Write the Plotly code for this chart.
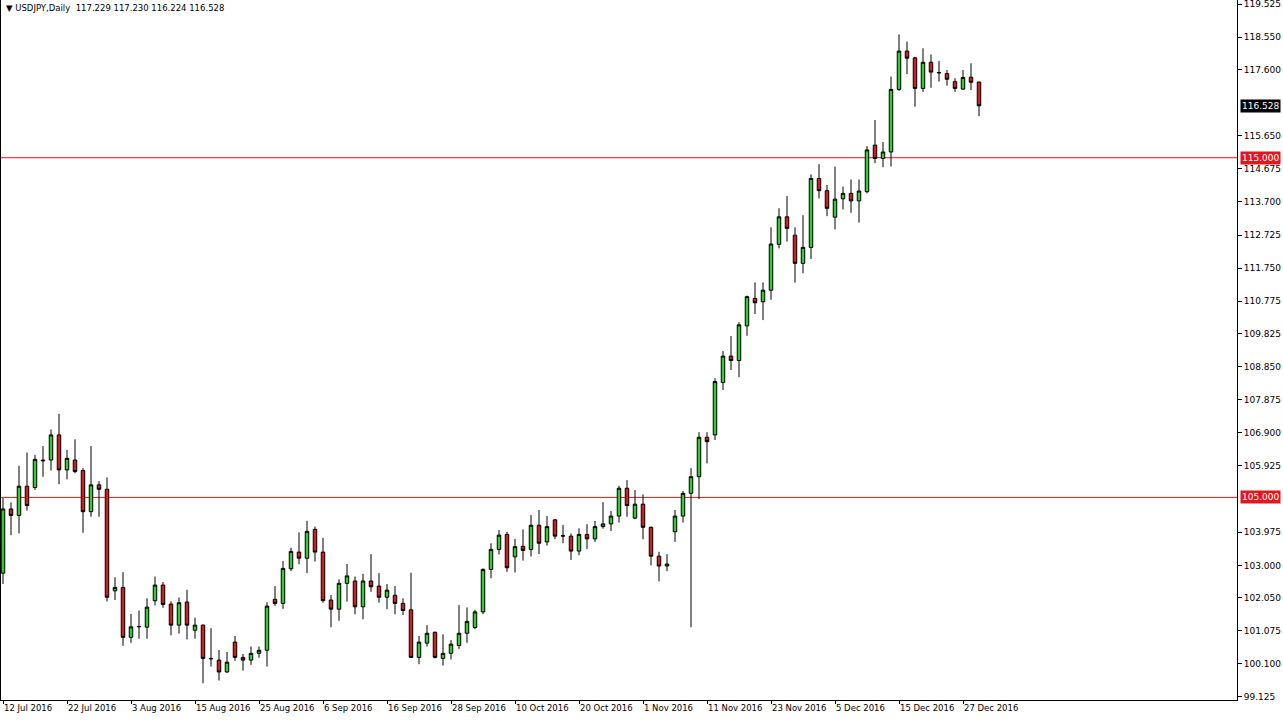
import plotly.graph_objects as go

# ---- data (USDJPY daily, 12 Jul 2016 - 29 Dec 2016) ----
opens = [102.77, 104.66, 104.47, 105.33, 105.29, 106.10, 106.10, 106.84, 105.81, 106.10,
         105.79, 104.58, 105.37, 105.24, 102.25, 102.35, 100.88, 101.19, 101.18, 101.96,
         102.42, 101.86, 101.24, 101.92, 101.09, 101.24, 100.26, 100.21, 99.86, 100.74,
         100.29, 100.21, 100.41, 100.50, 102.00, 101.88, 102.90, 103.39, 103.21, 104.06,
         103.39, 101.98, 101.71, 102.47, 102.54, 101.78, 102.54, 102.39, 102.06, 102.12,
         101.88, 101.69, 100.29, 100.71, 101.03, 100.26, 100.41, 100.64, 101.00, 101.17,
         101.63, 102.88, 103.47, 103.91, 103.25, 103.56, 103.47, 104.18, 103.69, 104.34,
         103.86, 103.86, 103.42, 103.91, 103.78, 104.14, 104.22, 104.45, 105.27, 104.39,
         104.80, 104.12, 103.27, 102.98, 103.99, 104.45, 105.12, 105.61, 106.77, 106.84,
         108.38, 109.16, 109.03, 110.05, 110.86, 110.76, 111.10, 112.45, 113.26, 112.72,
         111.89, 112.36, 114.39, 114.03, 113.25, 113.79, 113.95, 113.73, 114.00, 115.37,
         114.98, 115.17, 117.01, 118.14, 117.94, 117.04, 117.81, 117.51, 117.48, 117.24,
         117.02, 117.37, 117.229]
highs = [104.98, 104.85, 105.93, 106.32, 106.25, 106.51, 107.00, 107.46, 106.40, 106.71,
         105.86, 106.51, 105.48, 105.59, 102.65, 102.80, 101.57, 101.67, 102.03, 102.67,
         102.51, 101.94, 102.05, 102.28, 101.46, 101.26, 101.15, 100.51, 100.45, 100.92,
         100.39, 100.61, 100.61, 101.91, 102.39, 103.13, 103.52, 103.97, 104.31, 104.14,
         103.81, 102.13, 102.59, 103.04, 102.67, 102.75, 103.33, 102.77, 102.45, 102.39,
         102.03, 102.78, 100.92, 101.24, 101.05, 100.97, 100.80, 101.83, 101.76, 101.69,
         102.91, 103.65, 104.04, 103.99, 103.78, 104.06, 104.48, 104.63, 104.45, 104.37,
         104.19, 103.94, 104.09, 104.21, 104.31, 104.86, 104.60, 105.34, 105.51, 105.22,
         105.09, 104.14, 103.40, 103.33, 104.63, 105.19, 105.86, 106.92, 106.92, 108.51,
         109.31, 109.75, 110.16, 110.94, 111.33, 111.33, 112.95, 113.51, 113.87, 112.95,
         113.31, 114.51, 114.81, 114.20, 114.74, 114.15, 114.36, 114.36, 115.34, 116.11,
         115.46, 117.39, 118.63, 118.42, 117.97, 118.22, 118.04, 117.85, 117.58, 117.34,
         117.58, 117.78, 117.230]
lows = [102.45, 103.89, 103.94, 104.61, 105.22, 105.61, 105.79, 105.39, 105.53, 105.71,
        103.96, 104.43, 104.43, 101.94, 101.98, 100.63, 100.72, 100.84, 100.84, 101.82,
        101.75, 100.94, 100.99, 100.82, 100.84, 99.53, 100.02, 99.61, 99.84, 100.19,
        99.90, 100.07, 100.28, 100.02, 101.81, 101.72, 102.83, 103.03, 102.77, 103.11,
        101.90, 101.18, 101.37, 101.93, 101.56, 101.41, 102.22, 101.90, 101.71, 101.56,
        101.54, 100.27, 100.09, 100.61, 100.26, 100.05, 100.23, 100.54, 100.72, 101.12,
        101.56, 102.62, 103.32, 102.81, 102.79, 103.14, 103.26, 103.33, 103.58, 103.77,
        103.65, 103.16, 103.30, 103.48, 103.69, 104.08, 104.01, 104.26, 104.43, 104.36,
        103.77, 103.00, 102.53, 102.83, 103.69, 104.26, 101.18, 104.95, 106.00, 106.69,
        108.16, 108.75, 108.54, 109.76, 110.40, 110.22, 110.82, 112.33, 112.53, 111.32,
        111.60, 112.02, 113.80, 113.28, 112.89, 113.48, 113.38, 113.09, 113.95, 114.84,
        114.72, 114.74, 116.97, 117.46, 116.50, 116.94, 117.06, 117.24, 117.12, 116.94,
        116.99, 116.99, 116.224]
closes = [104.66, 104.47, 105.33, 104.76, 106.12, 106.08, 106.84, 105.81, 106.15, 105.76,
          104.58, 105.37, 105.24, 102.06, 102.35, 100.88, 101.19, 101.20, 101.77, 102.42,
          101.85, 101.24, 101.90, 101.24, 101.24, 100.26, 100.25, 99.86, 100.15, 100.29,
          100.21, 100.41, 100.50, 101.80, 101.88, 102.91, 103.41, 103.21, 104.00, 103.39,
          101.96, 101.71, 102.47, 102.69, 101.78, 102.54, 102.37, 102.06, 102.27, 101.88,
          101.67, 100.29, 100.74, 101.00, 100.29, 100.41, 100.68, 101.00, 101.35, 101.63,
          102.88, 103.47, 103.89, 102.93, 103.55, 103.44, 104.18, 103.65, 104.14, 103.86,
          103.87, 103.42, 103.91, 103.78, 104.14, 104.22, 104.45, 105.27, 104.76, 104.80,
          104.12, 103.27, 102.98, 103.04, 104.45, 105.12, 105.61, 106.77, 106.64, 108.41,
          109.16, 109.03, 110.08, 110.91, 110.73, 111.10, 112.46, 113.26, 112.92, 111.89,
          112.36, 114.39, 114.03, 113.51, 113.78, 113.95, 113.73, 114.02, 115.23, 114.98,
          115.17, 117.01, 118.14, 117.93, 117.04, 117.81, 117.52, 117.50, 117.31, 117.04,
          117.36, 117.22, 116.528]

x_tick_labels = ["12 Jul 2016", "22 Jul 2016", "3 Aug 2016", "15 Aug 2016", "25 Aug 2016",
                 "6 Sep 2016", "16 Sep 2016", "28 Sep 2016", "10 Oct 2016", "20 Oct 2016",
                 "1 Nov 2016", "11 Nov 2016", "23 Nov 2016", "5 Dec 2016", "15 Dec 2016",
                 "27 Dec 2016"]
y_tick_values = [119.525, 118.550, 117.600, 115.650, 114.675, 113.700, 112.725, 111.750,
                 110.775, 109.825, 108.850, 107.875, 106.900, 105.925, 103.975, 103.000,
                 102.050, 101.075, 100.100, 99.125]
levels = [115.0, 105.0]
symbol = "USDJPY,Daily"

bars = list(range(len(opens)))
x_tick_bars = bars[::8][:len(x_tick_labels)]

FONT = "DejaVu Sans"
GREEN = "#33cc33"
RED = "#cc1f1f"
LEVEL_RED = "#e3161b"

fig = go.Figure()
fig.add_trace(go.Candlestick(
    x=bars, open=opens, high=highs, low=lows, close=closes,
    increasing=dict(line=dict(color="black", width=1), fillcolor=GREEN),
    decreasing=dict(line=dict(color="black", width=1), fillcolor=RED),
    whiskerwidth=0, hoverinfo="skip", showlegend=False,
))

for lv in levels:
    fig.add_shape(type="line", xref="paper", x0=0, x1=1, yref="y", y0=lv, y1=lv,
                  line=dict(color=LEVEL_RED, width=1), layer="below")
    fig.add_annotation(xref="paper", x=1, xanchor="left", xshift=3, yref="y", y=lv,
                       text=f"{lv:.3f}", showarrow=False, bgcolor=LEVEL_RED,
                       font=dict(family=FONT, size=9, color="white"), borderpad=1)

fig.add_annotation(xref="paper", x=1, xanchor="left", xshift=3, yref="y", y=closes[-1],
                   text=f"{closes[-1]:.3f}", showarrow=False, bgcolor="black",
                   font=dict(family=FONT, size=9, color="white"), borderpad=1)

header = f"▼ {symbol}  {opens[-1]:.3f} {highs[-1]:.3f} {lows[-1]:.3f} {closes[-1]:.3f}"
fig.add_annotation(xref="paper", x=0, xanchor="left", xshift=3, yref="paper", y=1,
                   yanchor="top", yshift=-1, text=header, showarrow=False,
                   font=dict(family=FONT, size=8.5, color="black"))

fig.update_layout(
    width=1283, height=721,
    margin=dict(l=1, r=46, t=0, b=21),
    paper_bgcolor="white", plot_bgcolor="white",
    boxgap=0.38,
    showlegend=False,
    xaxis=dict(
        range=[-0.25, 154.25], showgrid=False, zeroline=False,
        showline=True, linecolor="black", linewidth=1,
        tickmode="array", tickvals=x_tick_bars, ticktext=x_tick_labels,
        ticks="outside", ticklen=3, tickcolor="black", tickangle=0,
        ticklabelposition="outside right",
        tickfont=dict(family=FONT, size=8.5, color="black"),
        rangeslider=dict(visible=False), fixedrange=True,
    ),
    yaxis=dict(
        side="right", range=[99.036, 119.643], showgrid=False, zeroline=False,
        showline=True, mirror=True, linecolor="black", linewidth=1,
        tickmode="array", tickvals=y_tick_values,
        ticktext=[f"{v:.3f}" for v in y_tick_values],
        ticks="outside", ticklen=4, tickcolor="black", ticklabeloverflow="allow",
        tickfont=dict(family=FONT, size=9, color="black"), fixedrange=True,
    ),
)

fig.write_html("out.html", config={"displayModeBar": False},
               post_script="document.body.style.margin='0';document.body.style.overflow='hidden';")
